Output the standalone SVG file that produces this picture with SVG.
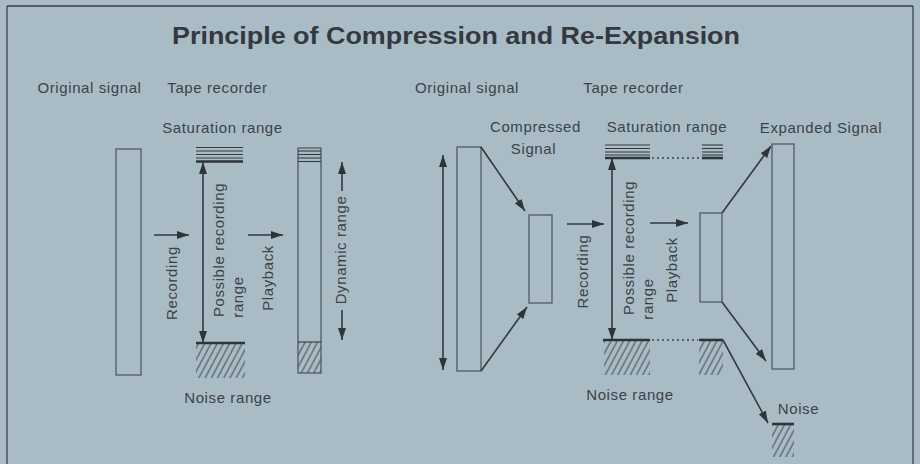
<svg xmlns="http://www.w3.org/2000/svg" width="920" height="464" viewBox="0 0 920 464">
<defs>
<style>
.t{font-family:"Liberation Sans",Arial,sans-serif;font-size:15px;fill:#3b4247;letter-spacing:0.6px}
.c{text-anchor:middle}
.box{fill:none;stroke:#4a5257;stroke-width:1.2}
.ln{stroke:#33393e;stroke-width:1.5;fill:none}
.arr{stroke:#33393e;stroke-width:1.6;fill:none;marker-end:url(#ah)}
.darr{stroke:#33393e;stroke-width:1.6;fill:none;marker-end:url(#ah);marker-start:url(#ah)}
.sat{stroke:#33393e;stroke-width:1.1}
.thick{stroke:#2e3439;stroke-width:2.6}
.dot{stroke:#3b4247;stroke-width:1.6;stroke-dasharray:2 3}
.hatch{fill:url(#hp);stroke:none}
</style>
<marker id="ah" viewBox="0 0 12 8" refX="12" refY="4" markerWidth="12" markerHeight="8" markerUnits="userSpaceOnUse" orient="auto-start-reverse">
<path d="M0,0 L12,4 L0,8 z" fill="#2e3439"/>
</marker>
<pattern id="hp" patternUnits="userSpaceOnUse" width="5.5" height="10" patternTransform="rotate(28)">
<line x1="1" y1="0" x2="1" y2="10" stroke="#2e3439" stroke-width="0.9"/>
</pattern>
</defs>
<rect x="0" y="0" width="920" height="464" fill="#a9bcc6"/>
<g id="frame">
<line x1="7" y1="6" x2="913" y2="6" stroke="#3a4045" stroke-width="1.6"/>
<line x1="7" y1="6" x2="7" y2="464" stroke="#3a4045" stroke-width="1.3"/>
<line x1="913" y1="6" x2="913" y2="464" stroke="#3a4045" stroke-width="1.3"/>
</g>
<g id="title">
<text x="456" y="44" font-family="'Liberation Sans',Arial,sans-serif" font-size="24" font-weight="bold" fill="#33393e" text-anchor="middle" textLength="568" lengthAdjust="spacingAndGlyphs">Principle of Compression and Re-Expansion</text>
</g>
<g id="headers">
<text class="t c" x="89.5" y="93">Original signal</text>
<text class="t c" x="217.5" y="93">Tape recorder</text>
<text class="t c" x="467" y="93">Original signal</text>
<text class="t c" x="633.5" y="93">Tape recorder</text>
</g>
<!-- Left diagram -->
<g id="left-original">
<rect class="box" x="116" y="149" width="25" height="226"/>
</g>
<g id="left-saturation">
<text class="t c" x="222.5" y="133">Saturation range</text>
<line class="sat" x1="196" y1="147.5" x2="243" y2="147.5"/>
<line class="sat" x1="196" y1="151" x2="243" y2="151"/>
<line class="sat" x1="196" y1="154.5" x2="243" y2="154.5"/>
<line class="sat" x1="196" y1="158" x2="243" y2="158"/>
<line class="thick" x1="196" y1="161.5" x2="243" y2="161.5"/>
</g>
<g id="left-noise">
<rect class="hatch" x="196" y="343" width="49" height="35"/>
<line class="thick" x1="196" y1="343" x2="245" y2="343"/>
<text class="t c" x="228" y="403">Noise range</text>
</g>
<g id="left-recorder-labels">
<text class="t c" transform="translate(177,283) rotate(-90)">Recording</text>
<text class="t c" transform="translate(224,250) rotate(-90)">Possible recording</text>
<text class="t c" transform="translate(243,297) rotate(-90)">range</text>
<text class="t c" transform="translate(273,278) rotate(-90)">Playback</text>
</g>
<g id="left-playback">
<rect class="hatch" x="298" y="342" width="23" height="31"/>
<rect class="box" x="298" y="148" width="23" height="225"/>
<line class="sat" x1="298" y1="151" x2="321" y2="151"/>
<line class="sat" x1="298" y1="154.5" x2="321" y2="154.5"/>
<line class="sat" x1="298" y1="158" x2="321" y2="158"/>
<line class="sat" x1="298" y1="161.5" x2="321" y2="161.5"/>
<line class="sat" x1="298" y1="342" x2="321" y2="342"/>
<text class="t c" transform="translate(346,250) rotate(-90)">Dynamic range</text>
</g>
<!-- Right diagram -->
<g id="right-original">
<rect class="box" x="457" y="147" width="24" height="224"/>
</g>
<g id="right-compressed">
<text class="t c" x="535.5" y="132">Compressed</text>
<text class="t c" x="533.5" y="154">Signal</text>
<rect class="box" x="529" y="215" width="23" height="88"/>
</g>
<g id="right-saturation">
<text class="t c" x="667" y="132">Saturation range</text>
<line class="sat" x1="605" y1="145" x2="650" y2="145"/>
<line class="sat" x1="605" y1="148.5" x2="650" y2="148.5"/>
<line class="sat" x1="605" y1="152" x2="650" y2="152"/>
<line class="sat" x1="605" y1="155" x2="650" y2="155"/>
<line class="thick" x1="605" y1="158" x2="650" y2="158"/>
<line class="dot" x1="652" y1="158" x2="700" y2="158"/>
<line class="sat" x1="702" y1="145" x2="723" y2="145"/>
<line class="sat" x1="702" y1="148.5" x2="723" y2="148.5"/>
<line class="sat" x1="702" y1="152" x2="723" y2="152"/>
<line class="sat" x1="702" y1="155" x2="723" y2="155"/>
<line class="thick" x1="702" y1="158" x2="723" y2="158"/>
</g>
<g id="right-noise">
<rect class="hatch" x="604" y="340" width="46" height="35"/>
<line class="thick" x1="603" y1="340" x2="650" y2="340"/>
<line class="dot" x1="652" y1="340" x2="698" y2="340"/>
<rect class="hatch" x="699" y="340" width="24" height="35"/>
<line class="thick" x1="699" y1="340" x2="723" y2="340"/>
<text class="t c" x="630" y="400">Noise range</text>
</g>
<g id="right-recorder-labels">
<text class="t c" transform="translate(588,271.5) rotate(-90)">Recording</text>
<text class="t c" transform="translate(634,248) rotate(-90)">Possible recording</text>
<text class="t c" transform="translate(653,299) rotate(-90)">range</text>
<text class="t c" transform="translate(677,270) rotate(-90)">Playback</text>
</g>
<g id="right-playback">
<rect class="box" x="700" y="213" width="22" height="89"/>
</g>
<g id="right-expanded">
<text class="t c" x="821" y="133">Expanded Signal</text>
<rect class="box" x="772" y="144" width="22" height="225"/>
</g>
<g id="right-noise-out">
<rect class="hatch" x="772" y="424" width="22" height="33"/>
<line class="thick" x1="772" y1="424" x2="794" y2="424"/>
<text class="t c" x="798.5" y="414">Noise</text>
</g>
<g id="connectors">
<line class="arr" x1="154" y1="235" x2="189" y2="235"/>
<line class="darr" x1="203" y1="162" x2="203" y2="343"/>
<line class="arr" x1="248" y1="235" x2="283" y2="235"/>
<line class="arr" x1="342" y1="191" x2="342" y2="162"/>
<line class="arr" x1="342" y1="310" x2="342" y2="340"/>
<line class="darr" x1="443" y1="155" x2="443" y2="370"/>
<line class="arr" x1="481" y1="147" x2="525" y2="211"/>
<line class="arr" x1="481" y1="371" x2="527" y2="307"/>
<line class="arr" x1="567" y1="224" x2="604" y2="224"/>
<line class="darr" x1="612" y1="158" x2="612" y2="340"/>
<line class="arr" x1="650" y1="223" x2="688" y2="223"/>
<line class="arr" x1="722" y1="213" x2="771" y2="146"/>
<line class="arr" x1="722" y1="302" x2="766" y2="361"/>
<line class="arr" x1="723" y1="340" x2="768" y2="423"/>
</g>
</svg>
